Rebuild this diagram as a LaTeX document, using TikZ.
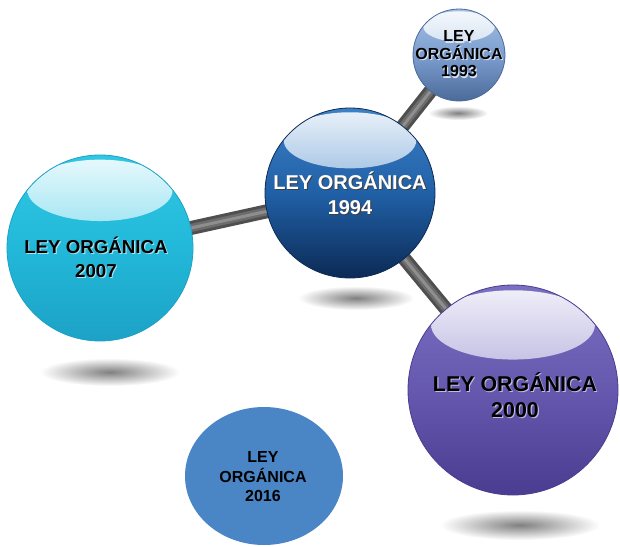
\documentclass[tikz,border=0pt]{standalone}
\usepackage{fontspec}
\setmainfont{Liberation Sans}
\definecolor{rodedge}{HTML}{4F4F4F}
\definecolor{rodmid}{HTML}{6C6C6C}
\definecolor{rodlight}{HTML}{8E8E8E}
\definecolor{flatblue}{HTML}{4A86C6}
\definecolor{aT}{HTML}{A3C1E4}\definecolor{aM}{HTML}{7C9ECE}\definecolor{aB}{HTML}{4B6A9A}
\definecolor{bT}{HTML}{3C80C6}\definecolor{bM}{HTML}{2060A6}\definecolor{bB}{HTML}{0C2A55}
\definecolor{cT}{HTML}{30C6E4}\definecolor{cM}{HTML}{22B8D9}\definecolor{cB}{HTML}{1CA2C6}
\definecolor{dT}{HTML}{7A70C2}\definecolor{dM}{HTML}{6558AE}\definecolor{dB}{HTML}{4A3C90}
\begin{document}
\begin{tikzpicture}[x=1pt,y=-1pt,
  sphere/.style n args={4}{circle, inner sep=0pt, minimum size=#1,
     top color=#2, bottom color=#4, middle color=#3, draw=#4, line width=0.8pt,
     path picture={\shade[top color=white!90!#2, bottom color=#2]
        ([yshift=0.31*#1]path picture bounding box.center)
        ellipse [x radius=0.39*#1, y radius=0.165*#1];}},
  rod/.style={line width=14pt, draw=rodedge,
     postaction={draw=rodmid, line width=8pt},
     postaction={draw=rodlight, line width=3pt}},
  blob/.style={inner color=black!50, outer color=white},
  lbl/.style={align=center, inner sep=0pt, text=black},
  shd/.style={lbl, xshift=1.1pt, yshift=-1.1pt},
]
\useasboundingbox[fill=white] (0,0) rectangle (620,546);
% shadows
\shade[blob] (458,113) ellipse [x radius=30pt, y radius=7pt];
\shade[blob] (356,298) ellipse [x radius=58pt, y radius=12pt];
\shade[blob] (110,372) ellipse [x radius=70pt, y radius=14pt];
\shade[blob] (520,525) ellipse [x radius=80pt, y radius=15pt];
% centre coordinates
\coordinate (c1993) at (459,55);
\coordinate (c1994) at (350,193);
\coordinate (c2007) at (100,248);
\coordinate (c2000) at (513,390);
% rods
\draw[rod] (c1994) -- (c1993);
\draw[rod] (c1994) -- (c2007);
\draw[rod] (c1994) -- (c2000);
% spheres
\node[sphere={92pt}{aT}{aM}{aB}] (s1993) at (c1993) {};
\node[sphere={170pt}{bT}{bM}{bB}] (s1994) at (c1994) {};
\node[sphere={186pt}{cT}{cM}{cB}] (s2007) at (c2007) {};
\node[sphere={210pt}{dT}{dM}{dB}] (s2000) at (c2000) {};
\fill[flatblue] (264,476) ellipse [x radius=79pt, y radius=69pt];
% label shadows
\node[shd, text=white!70!aM, font=\bfseries\fontsize{16}{17.5}\selectfont] (h1993) at (459,54) {LEY\\ORGÁNICA\\1993};
\node[shd, text=black!75, font=\bfseries\fontsize{20}{25}\selectfont] (h1994) at (350,193) {LEY ORGÁNICA\\1994};
\node[shd, text=white!60!cM, font=\bfseries\fontsize{18.7}{24}\selectfont] (h2007) at (96,257) {LEY ORGÁNICA\\2007};
\node[shd, text=white!60!dM, font=\bfseries\fontsize{21.4}{26}\selectfont] (h2000) at (515,395) {LEY ORGÁNICA\\2000};
% labels
\node[lbl, font=\bfseries\fontsize{16}{17.5}\selectfont] (t1993) at (459,54) {LEY\\ORGÁNICA\\1993};
\node[lbl, text=white, font=\bfseries\fontsize{20}{25}\selectfont] (t1994) at (350,193) {LEY ORGÁNICA\\1994};
\node[lbl, font=\bfseries\fontsize{18.7}{24}\selectfont] (t2007) at (96,257) {LEY ORGÁNICA\\2007};
\node[lbl, font=\bfseries\fontsize{21.4}{26}\selectfont] (t2000) at (515,395) {LEY ORGÁNICA\\2000};
\node[lbl, font=\bfseries\fontsize{16}{19.5}\selectfont] (t2016) at (263,477) {LEY\\ORGÁNICA\\2016};
\end{tikzpicture}
\end{document}
